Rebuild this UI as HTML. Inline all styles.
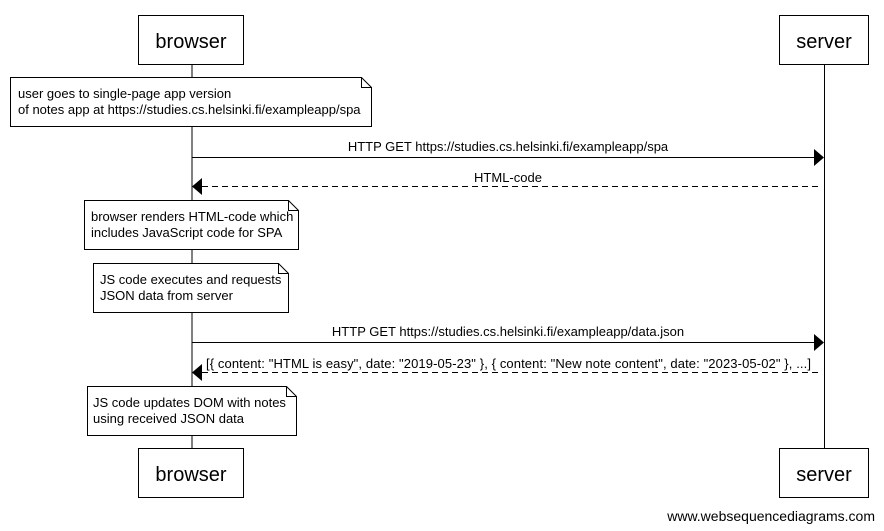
<!DOCTYPE html>
<html><head><meta charset="utf-8"><style>body{margin:0;background:#fff}svg{display:block}</style></head>
<body>
<svg width="884" height="531" viewBox="0 0 884 531" xmlns="http://www.w3.org/2000/svg" font-family="Liberation Sans, Arial, sans-serif">
<rect width="884" height="531" fill="#fff"/>
<g stroke="#000" stroke-width="1" fill="#fff">
<line x1="192" y1="64" x2="192" y2="448"/>
<line x1="824.5" y1="64" x2="824.5" y2="448"/>
<rect x="138.5" y="15.5" width="105" height="49"/>
<rect x="779.5" y="15.5" width="89" height="49"/>
<rect x="138.5" y="448.5" width="105" height="49"/>
<rect x="779.5" y="448.5" width="89" height="49"/>
<path d="M10.5 77.5H361.5L371.5 87.5V126.5H10.5Z"/><path d="M361.5 77.5V87.5H371.5" fill="none"/>
<path d="M84.5 200.5H288.5L298.5 210.5V249.5H84.5Z"/><path d="M288.5 200.5V210.5H298.5" fill="none"/>
<path d="M93.5 263.5H278.5L288.5 273.5V312.5H93.5Z"/><path d="M278.5 263.5V273.5H288.5" fill="none"/>
<path d="M87.5 386.5H286.5L296.5 396.5V435.5H87.5Z"/><path d="M286.5 386.5V396.5H296.5" fill="none"/>
<line x1="192" y1="157.5" x2="814" y2="157.5"/>
<line x1="202" y1="186.5" x2="822" y2="186.5" stroke-dasharray="6,4"/>
<line x1="192" y1="342.5" x2="814" y2="342.5"/>
<line x1="202" y1="372.5" x2="822" y2="372.5" stroke-dasharray="6,4"/>
</g>
<g fill="#000">
<path d="M814 149L824 157.5L814 166Z"/>
<path d="M202 178L192 186.5L202 195Z"/>
<path d="M814 334L824 342.5L814 351Z"/>
<path d="M202 364L192 372.5L202 381Z"/>
</g>
<g font-size="20" text-anchor="middle">
<text x="191" y="48">browser</text><text x="824" y="48">server</text>
<text x="191" y="481">browser</text><text x="824" y="481">server</text>
</g>
<g font-size="13">
<text x="18" y="98">user goes to single-page app version</text>
<text x="18" y="114">of notes app at https://studies.cs.helsinki.fi/exampleapp/spa</text>
<text x="91" y="221">browser renders HTML-code which</text>
<text x="91" y="237">includes JavaScript code for SPA</text>
<text x="100" y="284">JS code executes and requests</text>
<text x="100" y="300">JSON data from server</text>
<text x="93" y="407">JS code updates DOM with notes</text>
<text x="93" y="423">using received JSON data</text>
<text x="508" y="151" text-anchor="middle">HTTP GET https://studies.cs.helsinki.fi/exampleapp/spa</text>
<text x="508" y="182" text-anchor="middle">HTML-code</text>
<text x="508" y="336" text-anchor="middle">HTTP GET https://studies.cs.helsinki.fi/exampleapp/data.json</text>
<text x="206" y="368" textLength="605" lengthAdjust="spacing">[{ content: "HTML is easy", date: "2019-05-23" }, { content: "New note content", date: "2023-05-02" }, ...]</text>
<text x="875" y="521" font-size="14" text-anchor="end">www.websequencediagrams.com</text>
</g>
</svg>
</body></html>
